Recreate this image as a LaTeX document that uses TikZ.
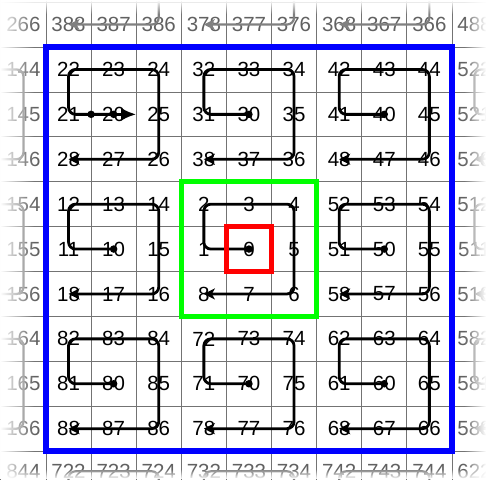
\documentclass[tikz,border=0pt]{standalone}
\usepackage{fontspec}
\setmainfont{Liberation Sans}
\usetikzlibrary{arrows, arrows.meta, fadings}

\tikzfading[name=fadefromleft, left color=transparent!0, right color=transparent!100]
\tikzfading[name=fadefromright, left color=transparent!100, right color=transparent!0]
\tikzfading[name=fadefromtop, top color=transparent!0, bottom color=transparent!100]
\tikzfading[name=fadefrombottom, top color=transparent!100, bottom color=transparent!0]

\tikzset{
  cell/.style={inner sep=0pt, font=\fontsize{20.5}{24}\selectfont},
  outcell/.style={cell, text=black!62},
  gridline/.style={black!55, line width=0.8pt},
  walk/.style={line width=2.8pt, rounded corners=7pt},
  outwalk/.style={walk, black!50, line width=2.2pt},
  startdot/.style={circle, fill, inner sep=0pt, minimum size=7.5pt},
  tip/.style={-{Stealth[length=11pt,width=11pt,inset=3pt]}},
}

\begin{document}
\begin{tikzpicture}[x=45.1pt, y=-44.9pt]
  \useasboundingbox (-46pt,47pt) rectangle (440pt,-432pt);
  \clip (-46pt,47pt) rectangle (440pt,-432pt);

  % grid
  \foreach \i in {-2,...,11} {
    \draw[gridline] (\i,-2) -- (\i,11);
    \draw[gridline] (-2,\i) -- (11,\i);
  }

  % inner 9x9 labels, block by block
  \foreach \b/\bx/\by in {0/4/4, 1/1/4, 2/1/1, 3/4/1, 4/7/1, 5/7/4, 6/7/7, 7/4/7, 8/1/7}
    \foreach \d/\dx/\dy in {0/0/0, 1/-1/0, 2/-1/-1, 3/0/-1, 4/1/-1, 5/1/0, 6/1/1, 7/0/1, 8/-1/1} {
      \pgfmathtruncatemacro\lab{10*\b+\d}
      \node[cell] (n\b\d) at (\bx+\dx+0.5, \by+\dy+0.5) {\lab};
    }

  % outer ring labels
  \foreach \c/\lab in {-1/266, 0/388, 1/387, 2/386, 3/378, 4/377, 5/376, 6/368, 7/367, 8/366, 9/488}
    \node[outcell] (n\lab) at (\c+0.5, -0.5) {\lab};
  \foreach \c/\lab in {-1/844, 0/722, 1/723, 2/724, 3/732, 4/733, 5/734, 6/742, 7/743, 8/744, 9/622}
    \node[outcell] (n\lab) at (\c+0.5, 9.45) {\lab};
  \foreach \r/\lab in {0/144, 1/145, 2/146, 3/154, 4/155, 5/156, 6/164, 7/165, 8/166}
    \node[outcell] (n\lab) at (-0.5, \r+0.5) {\lab};
  \foreach \r/\lab in {0/522, 1/521, 2/528, 3/512, 4/511, 5/518, 6/582, 7/581, 8/588}
    \node[outcell] (n\lab) at (9.5, \r+0.5) {\lab};

  % spiral in every block
  \foreach \b in {0,...,8} {
    \node[startdot] (s\b) at (n\b0.center) {};
    \draw[walk,tip] (s\b.center) -- (n\b1.center) -- (n\b2.center) -- (n\b4.center)
      -- (n\b6.center) -- (n\b8.center);
  }
  \coordinate (go) at (1,1.5);
  \coordinate (gone) at (2,1.5);
  \node[startdot] (s) at (go) {};
  \draw[line width=2.8pt, -{Latex[length=15pt,width=13pt]}] (s.center) -- (gone);

  % outer ring spirals
  \foreach \s/\c in {38/0, 37/3, 36/6} {
    \coordinate (n\s5) at (\c+2.5,-1.5);
    \draw[outwalk,tip] (n\s5) -- (n\s6.center) -- (n\s8.center);
  }
  \foreach \s/\r in {14/0, 15/3, 16/6} {
    \coordinate (n\s3) at (-1.5,\r+0.5);
    \coordinate (n\s7) at (-1.5,\r+2.5);
    \draw[outwalk] (n\s3) -- (n\s4.center) -- (n\s6.center) -- (n\s7);
  }
  \foreach \s/\r in {52/0, 51/3, 58/6} {
    \coordinate (n\s0) at (10.5,\r+1.5);
    \coordinate (n\s3) at (10.5,\r+0.5);
    \coordinate (n\s7) at (10.5,\r+2.5);
    \draw[outwalk] (n\s0) -- (n\s1.center) -- (n\s2.center) -- (n\s3);
    \draw[outwalk,tip] (n\s7) -- (n\s8.center);
  }
  \foreach \s/\c in {72/0, 73/3, 74/6} {
    \coordinate (n\s1) at (\c+0.5,10.5);
    \coordinate (n\s5) at (\c+2.5,10.5);
    \draw[outwalk] (n\s1) -- (n\s2.center) -- (n\s4.center) -- (n\s5);
  }

  % boxes
  \draw[blue, line width=6.5pt] (0,0) rectangle (9,9);
  \draw[green, line width=4.5pt] (3,3) rectangle (6,6);
  \draw[red, line width=4.5pt] (4,4) rectangle (5,5);

  % faded edges
  \fill[white, path fading=fadefromleft] (-46pt,47pt) rectangle (-12pt,-432pt);
  \fill[white, path fading=fadefromright] (418pt,47pt) rectangle (440pt,-432pt);
  \fill[white, path fading=fadefromtop] (-46pt,47pt) rectangle (440pt,33pt);
  \fill[white, path fading=fadefrombottom] (-46pt,-422pt) rectangle (440pt,-432pt);
\end{tikzpicture}
\end{document}
